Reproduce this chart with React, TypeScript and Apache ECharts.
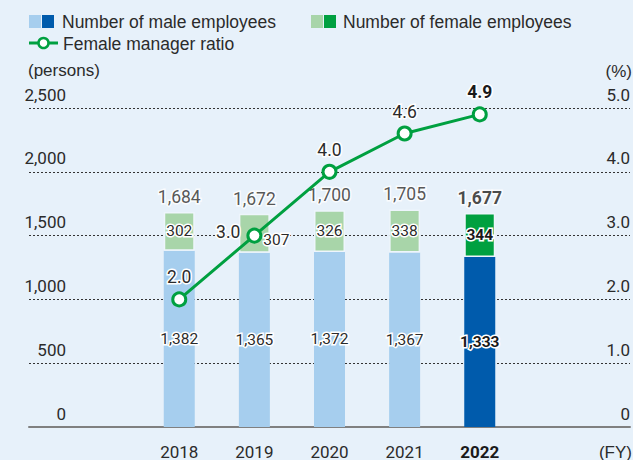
import React, { useEffect, useRef } from "react";
import * as echarts from "echarts";

const years = ["2018", "2019", "2020", "2021", "2022"];
const maleEmployees = [1382, 1365, 1372, 1367, 1333];
const femaleEmployees = [302, 307, 326, 338, 344];
const totalEmployees = [1684, 1672, 1700, 1705, 1677];
const femaleManagerRatio = [2.0, 3.0, 4.0, 4.6, 4.9];
const leftTicks = [0, 500, 1000, 1500, 2000, 2500];
const rightTicks = [0, 1, 2, 3, 4, 5];

// padding slots so that the five fiscal years sit where the reference puts them
const PAD_BEFORE = 2;
const PAD_AFTER = 2;

const BG = "#E7F1FA";
const LIGHT_BLUE = "#A6CEEE";
const DARK_BLUE = "#005BAC";
const LIGHT_GREEN = "#A8D5A9";
const DARK_GREEN = "#00A040";
const LINE_GREEN = "#00A040";
const NUM = "Roboto, 'Liberation Sans', sans-serif";
const REG = "'Liberation Sans', Arial, sans-serif";
const TEXT = "#2b2b2b";

export default function App() {
  const ref = useRef<HTMLDivElement>(null);
  useEffect(() => {
    if (!ref.current) return;
    const chart = echarts.init(ref.current, undefined, { renderer: "svg" });
    const last = years.length - 1;
    const halo = { textBorderColor: "#ffffff", textBorderWidth: 3 };
    const cats = [
      ...Array(PAD_BEFORE).fill(""),
      ...years,
      ...Array(PAD_AFTER).fill(""),
    ].map((c, i) => (c === "" ? `pad${i}` : c));
    const pad = (arr: any[]) => [
      ...Array(PAD_BEFORE).fill("-"),
      ...arr,
      ...Array(PAD_AFTER).fill("-"),
    ];

    const option: any = {
      animation: false,
      backgroundColor: BG,
      grid: { left: 29, right: 0, top: 108, bottom: 33 },
      xAxis: {
        type: "category",
        data: cats,
        boundaryGap: false,
        axisLine: { show: true, lineStyle: { color: "#808080", width: 2 } },
        axisTick: { show: false },
        splitLine: { show: false },
        axisLabel: {
          interval: 0,
          margin: 16,
          fontFamily: NUM,
          fontSize: 17,
          color: TEXT,
          formatter: (v: string) => {
            if (!years.includes(v)) return "";
            return v === years[last] ? `{b|${v}}` : v;
          },
          rich: { b: { fontFamily: NUM, fontSize: 17, fontWeight: "bold", color: "#1a1a1a" } },
        },
      },
      yAxis: [
        {
          type: "value",
          position: "left",
          min: leftTicks[0],
          max: leftTicks[leftTicks.length - 1],
          interval: 500,
          axisLine: { show: false },
          axisTick: { show: false },
          splitLine: { show: true, lineStyle: { color: "#333", type: [2, 2], width: 1 } },
          axisLabel: {
            inside: true,
            margin: 37,
            align: "right",
            verticalAlign: "bottom",
            padding: [0, 0, 5, 0],
            fontFamily: NUM,
            fontSize: 17,
            color: TEXT,
            formatter: (v: number) => v.toLocaleString("en-US"),
          },
        },
        {
          type: "value",
          position: "right",
          min: rightTicks[0],
          max: rightTicks[rightTicks.length - 1],
          interval: 1,
          axisLine: { show: false },
          axisTick: { show: false },
          splitLine: { show: false },
          axisLabel: {
            inside: true,
            margin: 0,
            align: "right",
            verticalAlign: "bottom",
            padding: [0, 0, 5, 0],
            fontFamily: NUM,
            fontSize: 17,
            color: TEXT,
            formatter: (v: number) => (v === 0 ? "0" : v.toFixed(1)),
          },
        },
      ],
      series: [
        {
          name: "Number of male employees",
          type: "bar",
          stack: "emp",
          barWidth: 31,
          data: pad(
            maleEmployees.map((v, i) => ({
              value: v,
              itemStyle: { color: i === last ? DARK_BLUE : LIGHT_BLUE },
              label: i === last ? { fontWeight: "bold", color: "#1a1a1a" } : undefined,
            }))
          ),
          label: {
            show: true,
            position: "inside",
            fontFamily: NUM,
            fontSize: 15.5,
            color: TEXT,
            ...halo,
            formatter: (p: any) => Number(p.value).toLocaleString("en-US"),
          },
        },
        {
          name: "Number of female employees",
          type: "bar",
          stack: "emp",
          barWidth: 31,
          data: pad(
            femaleEmployees.map((v, i) => ({
              value: v,
              itemStyle: { color: i === last ? DARK_GREEN : LIGHT_GREEN },
              label:
                i === last
                  ? { fontWeight: "bold", color: "#1a1a1a" }
                  : i === 1
                  ? { offset: [22, 7] }
                  : undefined,
            }))
          ),
          itemStyle: { borderColor: "#EEF5FC", borderWidth: 1.5 },
          label: {
            show: true,
            position: "inside",
            fontFamily: NUM,
            fontSize: 15.5,
            color: TEXT,
            ...halo,
            formatter: (p: any) => Number(p.value).toLocaleString("en-US"),
          },
        },
        {
          name: "total",
          type: "scatter",
          symbolSize: 0,
          silent: true,
          data: pad(
            totalEmployees.map((v, i) => ({
              value: v,
              label: i === last ? { fontWeight: "bold", color: "#1a1a1a" } : undefined,
            }))
          ),
          label: {
            show: true,
            position: "top",
            distance: 6,
            fontFamily: NUM,
            fontSize: 17.5,
            color: TEXT,
            ...halo,
            formatter: (p: any) => Number(p.value).toLocaleString("en-US"),
          },
        },
        {
          name: "Female manager ratio",
          type: "line",
          yAxisIndex: 1,
          z: 5,
          symbol: "circle",
          symbolSize: 13,
          lineStyle: { color: LINE_GREEN, width: 3 },
          itemStyle: { color: "#ffffff", borderColor: LINE_GREEN, borderWidth: 3 },
          data: pad(
            femaleManagerRatio.map((v, i) => ({
              value: v,
              label:
                i === 1
                  ? { position: "left", distance: 6, offset: [0, -4] }
                  : i === last
                  ? { fontWeight: "bold", color: "#1a1a1a" }
                  : undefined,
            }))
          ),
          label: {
            show: true,
            position: "top",
            distance: 5,
            fontFamily: NUM,
            fontSize: 17.5,
            color: TEXT,
            ...halo,
            formatter: (p: any) => Number(p.value).toFixed(1),
          },
        },
      ],
      graphic: [
        { type: "rect", shape: { x: 29, y: 15, width: 12, height: 13 }, style: { fill: LIGHT_BLUE } },
        { type: "rect", shape: { x: 42, y: 15, width: 12, height: 13 }, style: { fill: DARK_BLUE } },
        {
          type: "text",
          x: 62,
          y: 21.5,
          style: { text: "Number of male employees", font: `17.5px ${REG}`, fill: TEXT, verticalAlign: "middle" },
        },
        { type: "rect", shape: { x: 311, y: 15, width: 12, height: 13 }, style: { fill: LIGHT_GREEN } },
        { type: "rect", shape: { x: 324, y: 15, width: 12, height: 13 }, style: { fill: DARK_GREEN } },
        {
          type: "text",
          x: 343,
          y: 21.5,
          style: { text: "Number of female employees", font: `17.5px ${REG}`, fill: TEXT, verticalAlign: "middle" },
        },
        { type: "line", shape: { x1: 29, y1: 43, x2: 58, y2: 43 }, style: { stroke: LINE_GREEN, lineWidth: 3 } },
        {
          type: "circle",
          shape: { cx: 43.5, cy: 43, r: 5 },
          style: { fill: "#ffffff", stroke: LINE_GREEN, lineWidth: 2.5 },
        },
        {
          type: "text",
          x: 63,
          y: 43.5,
          style: { text: "Female manager ratio", font: `17.5px ${REG}`, fill: TEXT, verticalAlign: "middle" },
        },
        {
          type: "text",
          x: 28,
          y: 70,
          style: { text: "(persons)", font: `17px ${REG}`, fill: TEXT, verticalAlign: "middle" },
        },
        {
          type: "text",
          x: 632,
          y: 71,
          style: { text: "(%)", font: `17px ${REG}`, fill: TEXT, align: "right", verticalAlign: "middle" },
        },
        {
          type: "text",
          x: 632,
          y: 452,
          style: { text: "(FY)", font: `17px ${REG}`, fill: TEXT, align: "right", verticalAlign: "middle" },
        },
      ],
    };
    chart.setOption(option);
    return () => chart.dispose();
  }, []);
  return (
    <div
      ref={ref}
      style={{ position: "fixed", left: 0, top: 0, width: 633, height: 460, background: BG }}
    />
  );
}
